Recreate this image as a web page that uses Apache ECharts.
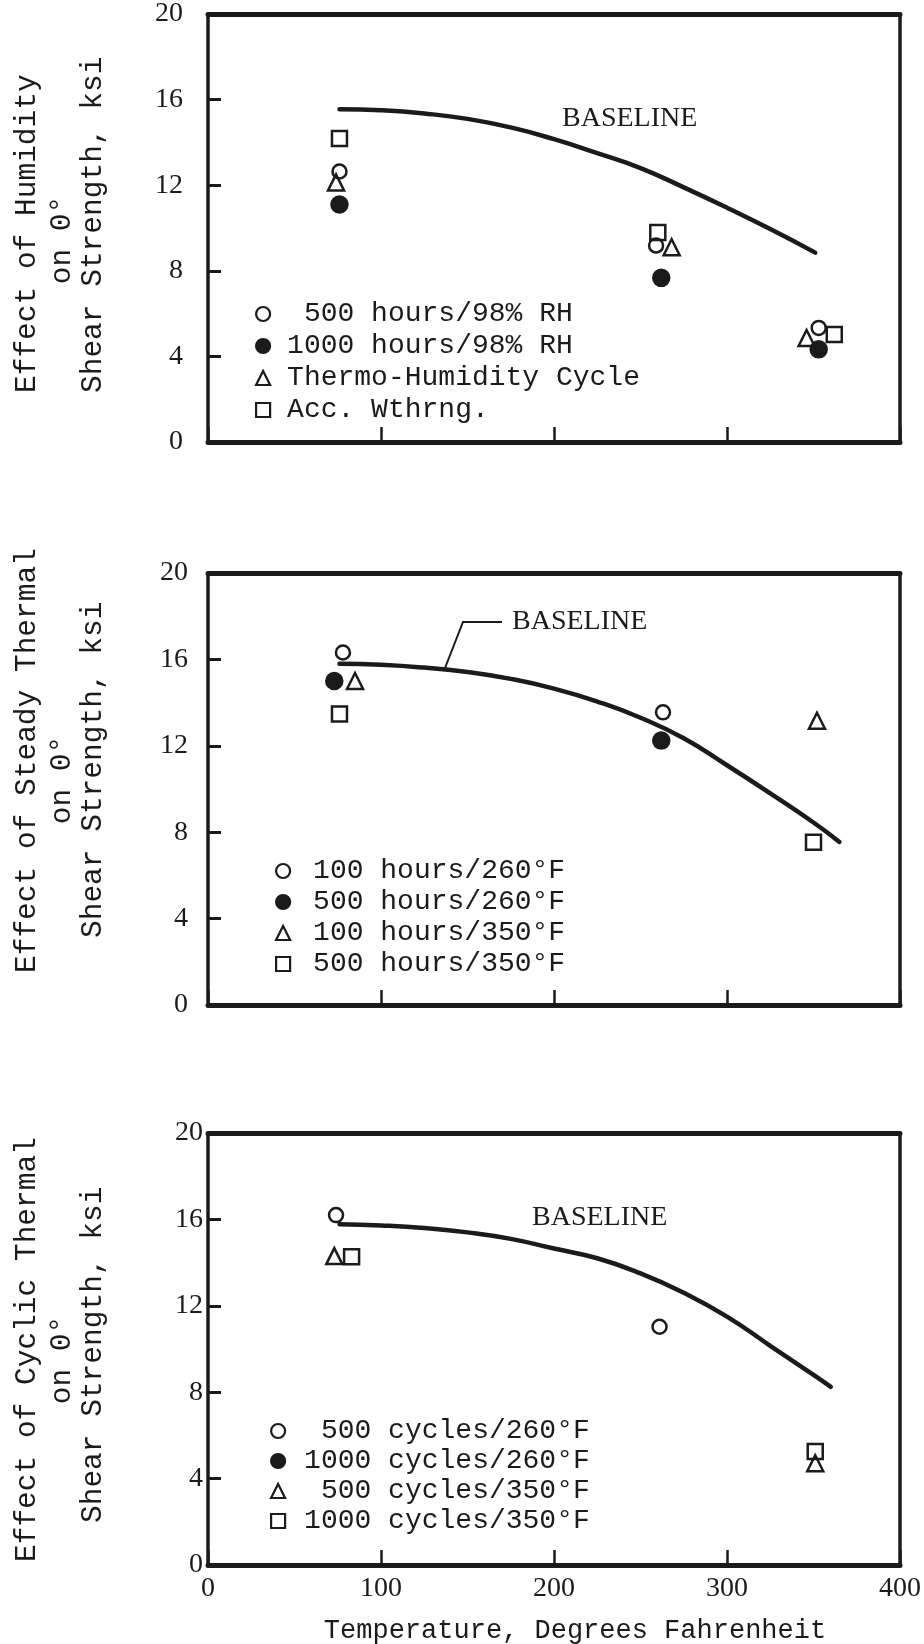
<!DOCTYPE html>
<html><head><meta charset="utf-8">
<script src="https://cdn.jsdelivr.net/npm/echarts@6/dist/echarts.min.js"></script>
<style>html,body{margin:0;padding:0;background:#fff}#c{width:924px;height:1644px}</style>
</head><body><div id="c"></div>
<script>
// ---------- DATA ----------
const xTicks = [0, 100, 200, 300, 400];
const yTicks = [0, 4, 8, 12, 16, 20];

// Panel 1: Effect of Humidity
const p1Names = [' 500 hours/98% RH', '1000 hours/98% RH', 'Thermo-Humidity Cycle', 'Acc. Wthrng.'];
const p1_500h98 = [[76, 12.64], [259, 9.18], [353, 5.33]];
const p1_1000h98 = [[76, 11.1], [262, 7.67], [353, 4.33]];
const p1_thermoHum = [[74, 12.13], [268, 9.1], [346, 4.86]];
const p1_accWthr = [[76, 14.18], [260, 9.79], [362, 5.02]];
const p1BaseX = [76, 100, 125, 150, 175, 200, 225, 250, 275, 300, 325, 351];
const p1BaseY = [15.55, 15.5, 15.35, 15.1, 14.7, 14.15, 13.5, 12.8, 11.9, 10.95, 9.95, 8.85];

// Panel 2: Effect of Steady Thermal
const p2Names = ['100 hours/260°F', '500 hours/260°F', '100 hours/350°F', '500 hours/350°F'];
const p2_100h260 = [[78, 16.32], [263, 13.55]];
const p2_500h260 = [[73, 15.0], [262, 12.24]];
const p2_100h350 = [[85, 15.0], [352, 13.16]];
const p2_500h350 = [[76, 13.47], [350, 7.54]];
const p2BaseX = [76, 100, 125, 150, 175, 200, 225, 250, 275, 300, 325, 350, 365];
const p2BaseY = [15.8, 15.75, 15.62, 15.42, 15.1, 14.65, 14.05, 13.3, 12.35, 11.1, 9.8, 8.45, 7.55];

// Panel 3: Effect of Cyclic Thermal
const p3Names = [' 500 cycles/260°F', '1000 cycles/260°F', ' 500 cycles/350°F', '1000 cycles/350°F'];
const p3_500c260 = [[74, 16.2], [261, 11.03]];
const p3_1000c260 = [];
const p3_500c350 = [[73, 14.3], [351, 4.71]];
const p3_1000c350 = [[83, 14.27], [351, 5.25]];
const p3BaseX = [76, 100, 125, 150, 175, 200, 225, 250, 275, 300, 325, 350, 360];
const p3BaseY = [15.78, 15.72, 15.6, 15.4, 15.1, 14.65, 14.2, 13.5, 12.6, 11.5, 10.15, 8.8, 8.25];

const yTitleLine1 = ['Effect of Humidity', 'Effect of Steady Thermal', 'Effect of Cyclic Thermal'];
const yTitleLine2 = 'on 0°';
const yTitleLine3 = 'Shear Strength, ksi';
const xTitle = 'Temperature, Degrees Fahrenheit';
const baselineLabel = 'BASELINE';

// ---------- STYLE / LAYOUT ----------
const ink = '#1b1b1b';
const mono = '"Liberation Mono", "DejaVu Sans Mono", monospace';
const serif = '"Liberation Serif", "DejaVu Serif", serif';
const gridTops = [10, 573, 1133];
const gridH = 432, gridL = 208, gridW = 692;
const labelMargins = [25, 20, 5];
const labelPad = [[10, 0, 0, 0], [2, 0, 0, 0], [2, 0, 0, 0]];
const legendLeft = [250, 270, 265];
const legendTop = [295, 852, 1412];
const legendGap = [4, 3, 2];
const legendSpacer = [12, 18, 14];

const markerDefs = [
  { symbol: 'circle', size: 14, fill: 'rgba(0,0,0,0)' },
  { symbol: 'circle', size: 16, fill: ink },
  { symbol: 'triangle', size: 16, fill: 'rgba(0,0,0,0)' },
  { symbol: 'rect', size: 15, fill: 'rgba(0,0,0,0)' }
];

const panels = [
  { names: p1Names, sets: [p1_500h98, p1_1000h98, p1_thermoHum, p1_accWthr], bx: p1BaseX, by: p1BaseY },
  { names: p2Names, sets: [p2_100h260, p2_500h260, p2_100h350, p2_500h350], bx: p2BaseX, by: p2BaseY },
  { names: p3Names, sets: [p3_500c260, p3_1000c260, p3_500c350, p3_1000c350], bx: p3BaseX, by: p3BaseY }
];

const grid = [], xAxis = [], yAxis = [], series = [], legend = [];

panels.forEach((p, i) => {
  grid.push({ left: gridL, top: gridTops[i], width: gridW, height: gridH, containLabel: false });
  xAxis.push({
    gridIndex: i, type: 'value', min: xTicks[0], max: xTicks[xTicks.length - 1], interval: 100, position: 'bottom',
    axisLine: { show: true, onZero: false, lineStyle: { color: ink, width: 5 } },
    axisTick: { show: true, inside: true, length: 15, lineStyle: { color: ink, width: 2.5 } },
    axisLabel: { show: i === 2, margin: 10, color: ink, fontFamily: serif, fontSize: 28 },
    splitLine: { show: false }
  });
  xAxis.push({
    gridIndex: i, type: 'value', min: 0, max: 400, position: 'top',
    axisLine: { show: true, onZero: false, lineStyle: { color: ink, width: 5 } },
    axisTick: { show: false }, axisLabel: { show: false }, splitLine: { show: false }
  });
  yAxis.push({
    gridIndex: i, type: 'value', min: yTicks[0], max: yTicks[yTicks.length - 1], interval: 4, position: 'left',
    axisLine: { show: true, onZero: false, lineStyle: { color: ink, width: 3.5 } },
    axisTick: { show: true, inside: true, length: 13, lineStyle: { color: ink, width: 3 } },
    axisLabel: { show: true, margin: labelMargins[i], color: ink, fontFamily: serif, fontSize: 28, padding: labelPad[i] },
    splitLine: { show: false }
  });
  yAxis.push({
    gridIndex: i, type: 'value', min: 0, max: 20, position: 'right',
    axisLine: { show: true, onZero: false, lineStyle: { color: ink, width: 3.5 } },
    axisTick: { show: false }, axisLabel: { show: false }, splitLine: { show: false }
  });

  series.push({
    type: 'line', name: 'Baseline ' + (i + 1), xAxisIndex: 2 * i, yAxisIndex: 2 * i,
    data: p.bx.map((x, k) => [x, p.by[k]]),
    symbol: 'none', smooth: 0.5,
    lineStyle: { color: ink, width: 4.5, cap: 'round' }, silent: true, z: 3
  });

  p.sets.forEach((d, k) => {
    const m = markerDefs[k];
    series.push({
      type: 'scatter', name: p.names[k], xAxisIndex: 2 * i, yAxisIndex: 2 * i,
      data: d, symbol: m.symbol, symbolSize: m.size,
      itemStyle: { color: m.fill, borderColor: ink, borderWidth: 2.5, opacity: 1 },
      silent: true, z: 5
    });
  });

  legend.push({
    orient: 'vertical', left: legendLeft[i], top: legendTop[i], itemGap: legendGap[i],
    itemWidth: 14, itemHeight: 14, selectedMode: false,
    data: p.names.map((n, k) => ({
      name: n, icon: markerDefs[k].symbol,
      itemStyle: { color: markerDefs[k].fill, borderColor: ink, borderWidth: 2.2 }
    })),
    formatter: n => '{s|}{t|' + n + '}',
    textStyle: {
      rich: {
        s: { width: legendSpacer[i], lineHeight: 28 },
        t: { fontFamily: mono, fontSize: 28, color: ink, lineHeight: 28 }
      }
    }
  });
});

const graphic = [];
// [x of line1, start y of line1, x of line2, center y of line2, x of line3, start y of line3]
const titleLayout = [
  [27, 393, 62, 240, 93, 393],
  [27, 973, 62, 780, 93, 938],
  [27, 1562, 62, 1360, 93, 1523]
];
const titleFont = '29.5px ' + mono;
titleLayout.forEach((t, i) => {
  graphic.push({
    type: 'text', x: t[0], y: t[1], rotation: Math.PI / 2, silent: true,
    style: { text: yTitleLine1[i], font: titleFont, fill: ink, align: 'left', verticalAlign: 'middle' }
  });
  graphic.push({
    type: 'text', x: t[2], y: t[3], rotation: Math.PI / 2, silent: true,
    style: { text: yTitleLine2, font: titleFont, fill: ink, align: 'center', verticalAlign: 'middle' }
  });
  graphic.push({
    type: 'text', x: t[4], y: t[5], rotation: Math.PI / 2, silent: true,
    style: { text: yTitleLine3, font: titleFont, fill: ink, align: 'left', verticalAlign: 'middle' }
  });
});
graphic.push({
  type: 'text', x: 575, y: 1631, silent: true,
  style: { text: xTitle, font: '27px ' + mono, fill: ink, align: 'center', verticalAlign: 'middle' }
});
const baseLabelPos = [[562, 119], [512, 622], [532, 1218]];
baseLabelPos.forEach(p => {
  graphic.push({
    type: 'text', x: p[0], y: p[1], silent: true,
    style: { text: baselineLabel, font: '28px ' + serif, fill: ink, align: 'left', verticalAlign: 'middle' }
  });
});
graphic.push({
  type: 'polyline', silent: true,
  shape: { points: [[502, 622], [463, 622], [445, 668]] },
  style: { stroke: ink, lineWidth: 2, fill: null }
});

const chart = echarts.init(document.getElementById('c'), null, { renderer: 'canvas' });
chart.setOption({
  backgroundColor: '#ffffff',
  animation: false,
  grid, xAxis, yAxis, series, legend, graphic
});
</script></body></html>
